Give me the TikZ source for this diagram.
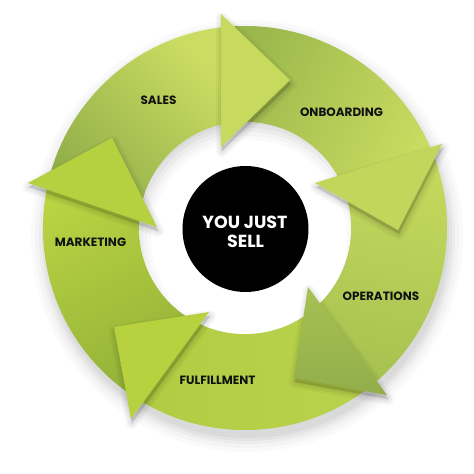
\documentclass[tikz,border=0pt]{standalone}
\usepackage{fontspec}
\setmainfont{Poppins}
\usetikzlibrary{calc}
\definecolor{salesD}{HTML}{8BAA46}
\definecolor{salesL}{HTML}{CBDC62}
\definecolor{onbD}{HTML}{9AB74C}
\definecolor{onbL}{HTML}{CCDD61}
\definecolor{opL}{HTML}{C8DA5E}
\definecolor{opD}{HTML}{A4C050}
\definecolor{fulD}{HTML}{B1CC42}
\definecolor{fulL}{HTML}{BAD34D}
\definecolor{mktD}{HTML}{8DAC36}
\definecolor{mktL}{HTML}{B9D343}
\definecolor{salesH}{HTML}{C8DA5E}
\definecolor{onbH}{HTML}{C1D65A}
\definecolor{opHt}{HTML}{A6C254}
\definecolor{opHb}{HTML}{92AE4A}
\definecolor{fulH}{HTML}{B7D23E}
\definecolor{mktH}{HTML}{B6D140}
\definecolor{labcol}{HTML}{111111}
\newcommand\hshadow[3]{%
  \foreach \w/\o in {12/0.03,8/0.035,4/0.04,0.1/0.045}{%
    \path[fill=black, draw=black, line width=\w pt, line join=round, opacity=\o]
      ($(#1)+(1,-4)$) -- ($(#2)+(1,-4)$) -- ($(#3)+(1,-4)$) -- cycle;}}
\newcommand\ringclip{%
  \clip (202,0) arc[start angle=0, end angle=360, radius=202pt] -- (106,0)
        arc[start angle=360, end angle=0, radius=106pt] -- cycle;}
\begin{document}
\begin{tikzpicture}[x=1pt,y=1pt,
  lab/.style={font=\fontsize{12}{14}\selectfont\bfseries, text=labcol, anchor=base, inner sep=0pt},
  ctr/.style={font=\fontsize{17.5}{20}\selectfont\bfseries, text=white, anchor=base, inner sep=0pt}]
\useasboundingbox (-245,-246) rectangle (229,228);
\fill[white] (-245,-246) rectangle (229,228);
% head corners
\coordinate (Sout) at (-24,214); \coordinate (Sin) at (-24,81); \coordinate (Stip) at (45,148);
\coordinate (Oout) at (197,84); \coordinate (Oin) at (70,45); \coordinate (Otip) at (153,-2);
\coordinate (Pout) at (142,-167); \coordinate (Pin) at (63,-59); \coordinate (Ptip) at (49,-150);
\coordinate (Fout) at (-114,-191); \coordinate (Fin) at (-36,-84); \coordinate (Ftip) at (-131,-99);
\coordinate (Mout) at (-217,45); \coordinate (Min) at (-88,1); \coordinate (Mtip) at (-133,90);
% outer soft shadow
\foreach \r/\o in {216/0.02,212/0.025,208/0.03,205/0.035,202/0.04}
  \fill[black, opacity=\o] (2,-8) circle (\r pt);
% bands
\begin{scope}
  \clip (Min) -- ($(Min)!4!(Mout)$) -- ($(Sin)!4!(Sout)$) -- (Sin) -- cycle;
  \ringclip
  \shade[top color=salesL, bottom color=salesD, shading angle=-45] (-205,-5) rectangle (-20,205);
\end{scope}
\begin{scope}
  \clip (Sin) -- ($(Sin)!4!(Sout)$) -- ($(Oin)!4!(Oout)$) -- (Oin) -- cycle;
  \ringclip
  \shade[top color=onbL, bottom color=onbD, shading angle=-117] (-28,35) rectangle (205,205);
\end{scope}
\begin{scope}
  \clip (Oin) -- ($(Oin)!4!(Oout)$) -- ($(Pin)!4!(Pout)$) -- (Pin) -- cycle;
  \ringclip
  \shade[top color=opL, bottom color=opD, shading angle=-12] (55,-175) rectangle (205,95);
\end{scope}
\begin{scope}
  \clip (Pin) -- ($(Pin)!4!(Pout)$) -- ($(Fin)!4!(Fout)$) -- (Fin) -- cycle;
  \ringclip
  \shade[top color=fulL, bottom color=fulD, shading angle=-84] (-120,-205) rectangle (150,-60);
\end{scope}
\begin{scope}
  \clip (Fin) -- ($(Fin)!4!(Fout)$) -- ($(Min)!4!(Mout)$) -- (Min) -- cycle;
  \ringclip
  \shade[top color=mktL, bottom color=mktD, shading angle=26] (-205,-200) rectangle (-30,60);
\end{scope}
% white hole with its soft shadow
\fill[white] (0,0) circle (106pt);
\begin{scope}
  \clip (0,0) circle (106pt);
  \foreach \r/\o in {114/0.035,110/0.035,106/0.03,102/0.025,98/0.02}
    \fill[black, opacity=\o, even odd rule] (-130,-130) rectangle (130,130) (4,-10) circle (\r pt);
\end{scope}
% heads
\hshadow{Sout}{Stip}{Sin}
\fill[salesH] (Sout) -- (Stip) -- (Sin) -- cycle;
\hshadow{Oout}{Otip}{Oin}
\fill[onbH] (Oout) -- (Otip) -- (Oin) -- cycle;
\hshadow{Pout}{Ptip}{Pin}
\shade[top color=opHt, bottom color=opHb] (Pout) -- (Ptip) -- (Pin) -- cycle;
\hshadow{Fout}{Ftip}{Fin}
\fill[fulH] (Fout) -- (Ftip) -- (Fin) -- cycle;
\hshadow{Mout}{Mtip}{Min}
\fill[mktH] (Mout) -- (Mtip) -- (Min) -- cycle;
% hub
\node[circle, fill=black, minimum size=126pt, inner sep=0pt] (hub) at (0.5,-1) {};
\node[ctr] (youjust) at (0,0) {YOU JUST};
\node[ctr] (sell) at (0.5,-19.5) {SELL};
% labels
\node[lab] (sales) at (-86.5,123.7) {SALES};
\node[lab] (onboarding) at (96.5,111.2) {ONBOARDING};
\node[lab] (marketing) at (-154.5,-18.3) {MARKETING};
\node[lab] (operations) at (136,-72.8) {OPERATIONS};
\node[lab] (fulfillment) at (-27.5,-156.8) {FULFILLMENT};
\end{tikzpicture}
\end{document}
